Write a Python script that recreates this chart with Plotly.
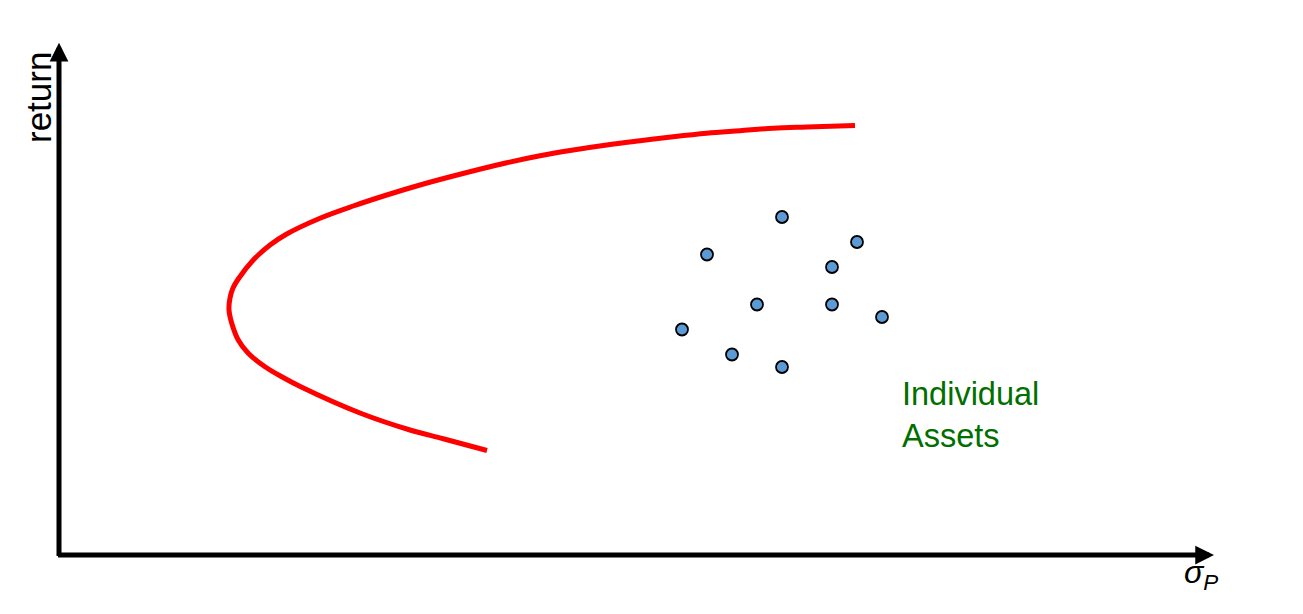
import plotly.graph_objects as go

# Efficient frontier, risk (sigma) vs return
frontier_sigma = [17.2, 15.45, 14.12, 12.12, 9.79, 8.99, 8.32, 7.65, 7.25, 6.99, 6.88, 6.92, 7.04,
                  7.25, 7.85, 8.52, 9.19, 10.52, 11.85, 13.19, 14.52, 15.85, 17.99, 19.32,
                  20.65, 21.99, 23.32, 24.65, 25.99, 27.32, 28.65, 29.99, 31.92]
frontier_return = [5.66, 6.13, 6.48, 7.16, 8.19, 8.61, 9.01, 9.55, 10.08, 10.75, 11.28, 11.76, 12.16,
                   12.52, 13.28, 13.88, 14.32, 14.95, 15.44, 15.88, 16.28, 16.64, 17.17, 17.45,
                   17.68, 17.88, 18.05, 18.21, 18.35, 18.45, 18.55, 18.6, 18.66]

# Individual assets
asset_sigma = [29, 26, 32, 31, 28, 31, 33, 25, 27, 29]
asset_return = [15, 13.5, 14, 13, 11.5, 11.5, 11, 10.5, 9.5, 9]

# Axis geometry (data units)
origin = (0.08, 1.48)
x_tip = 46.28
y_tip = 21.97
x_range = [-2.28, 49.84]
y_range = [-0.88, 23.68]

fig = go.Figure()

fig.add_trace(go.Scatter(
    x=frontier_sigma, y=frontier_return, mode="lines",
    line=dict(color="#ff0000", width=5, shape="spline", smoothing=1.0),
    hoverinfo="skip", showlegend=False,
))

fig.add_trace(go.Scatter(
    x=asset_sigma, y=asset_return, mode="markers",
    marker=dict(size=12, color="#5b9bd5", line=dict(color="#000000", width=1.8)),
    showlegend=False,
))

# Axes with arrowheads
fig.add_annotation(x=x_tip, y=origin[1], ax=origin[0] - 0.1, ay=origin[1],
                   xref="x", yref="y", axref="x", ayref="y", text="",
                   showarrow=True, arrowhead=2, arrowsize=0.75, arrowwidth=5,
                   arrowcolor="#000000", standoff=0, startstandoff=0)
fig.add_annotation(x=origin[0], y=y_tip, ax=origin[0], ay=origin[1] - 0.1,
                   xref="x", yref="y", axref="x", ayref="y", text="",
                   showarrow=True, arrowhead=2, arrowsize=0.75, arrowwidth=5,
                   arrowcolor="#000000", standoff=0, startstandoff=0)

# Axis labels
fig.add_annotation(x=-0.76, y=19.76, xref="x", yref="y", text="return",
                   showarrow=False, textangle=-90,
                   font=dict(family="Liberation Sans, Arial", size=35, color="#000000"))
fig.add_annotation(x=45.76, y=0.72, xref="x", yref="y", text="<i>σ<sub>P</sub></i>",
                   showarrow=False,
                   font=dict(family="Liberation Sans, Arial", size=32, color="#000000"))

fig.add_annotation(x=33.72, y=7.1, xref="x", yref="y", text="Individual<br>Assets",
                   showarrow=False, xanchor="left", align="left",
                   font=dict(family="Liberation Sans, Arial", size=32.5, color="#006f00"))

fig.update_layout(
    width=1303, height=614,
    margin=dict(l=0, r=0, t=0, b=0),
    paper_bgcolor="white", plot_bgcolor="white",
    xaxis=dict(range=x_range, visible=False, fixedrange=True),
    yaxis=dict(range=y_range, visible=False, fixedrange=True),
    showlegend=False,
)

fig.write_html("out.html")
